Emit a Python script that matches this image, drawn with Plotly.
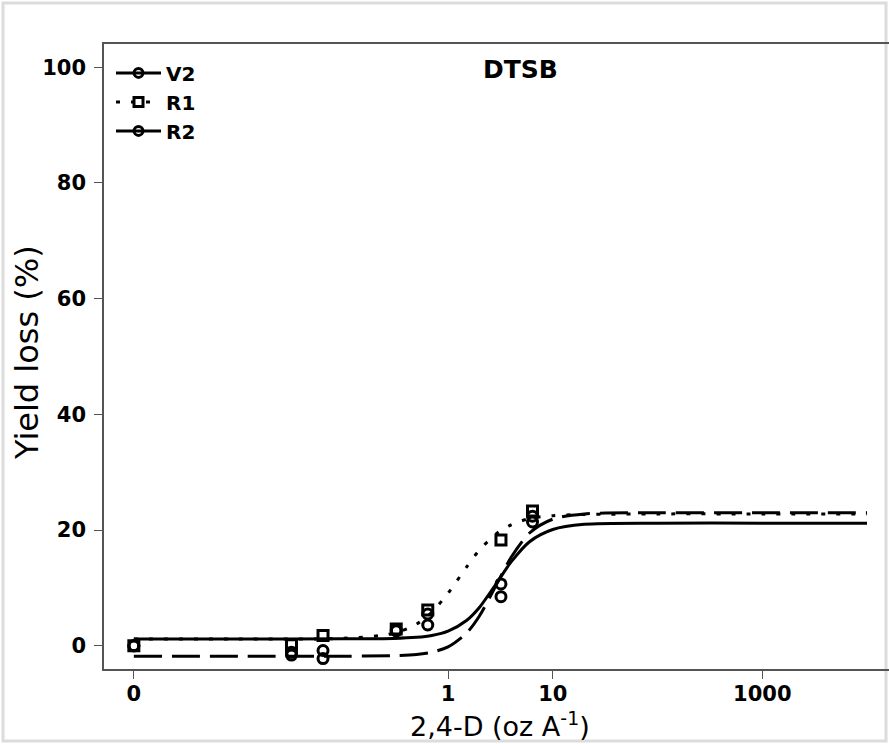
import plotly.graph_objects as go

# ---- data ----
dose_labels = ["0", "1", "10", "1000"]
dose_ticks = [0.001, 1, 10, 1000]
dose_obs = [0.001, 0.032, 0.064, 0.32, 0.64, 3.2, 6.4]
v2_obs = [0.0, -1.1, -0.8, 2.6, 5.5, 10.7, 21.4]
r1_obs = [0.0, 0.2, 1.8, 2.9, 6.2, 18.3, 23.3]
r2_obs = [0.0, -1.6, -2.2, 2.7, 3.6, 8.5, 22.4]

curve_x = [0.001, 0.01, 0.1, 0.3, 0.5, 0.7, 1, 1.5, 2, 3, 4, 6, 10, 20, 100, 1000, 10000]
v2_fit = [1.2, 1.2, 1.21, 1.28, 1.47, 1.79, 2.54, 4.38, 6.68, 11.2, 14.5, 18.0, 20.1, 21.0, 21.2, 21.2, 21.2]
r1_fit = [1.2, 1.2, 1.3, 2.15, 3.76, 5.82, 9.1, 13.6, 16.6, 19.6, 20.9, 22.0, 22.5, 22.7, 22.8, 22.8, 22.8]
r2_fit = [-1.8, -1.8, -1.79, -1.71, -1.5, -1.11, -0.18, 2.2, 5.2, 11.1, 15.3, 19.5, 21.9, 22.8, 23.0, 23.0, 23.0]

FONT = "DejaVu Sans"
W, H = 889, 744
ML, MR, MT, MB = 104, 0, 44, 75
PW, PH = W - ML - MR, H - MT - MB

def px(x):
    return (x - ML) / PW

def py(y):
    return (H - MB - y) / PH

fig = go.Figure()

series = [
    ("V2", v2_obs, v2_fit, "solid", "circle-open"),
    ("R1", r1_obs, r1_fit, "4px,11px", "square-open"),
    ("R2", r2_obs, r2_fit, "28px,10px", "circle-open"),
]

for name, obs, fit, dash, sym in series:
    fig.add_trace(go.Scatter(
        x=curve_x, y=fit, mode="lines", line=dict(color="black", width=3, dash=dash, shape="spline", smoothing=0.8),
        showlegend=False, hoverinfo="skip"))

for name, obs, fit, dash, sym in series:
    fig.add_trace(go.Scatter(
        x=dose_obs, y=obs, mode="markers", showlegend=False,
        marker=dict(symbol=sym, size=10, color="black", line=dict(color="black", width=3))))

# legend entries
for name, obs, fit, dash, sym in series:
    fig.add_trace(go.Scatter(
        x=[None], y=[None], mode="lines+markers", name=name,
        line=dict(color="black", width=3, dash=dash if dash != "28px,10px" else "solid"),
        marker=dict(symbol=sym, size=9, color="black", line=dict(color="black", width=3))))

axis_line = "#555555"
fig.update_xaxes(
    type="log", range=[-3.285, 4.21],
    tickvals=dose_ticks, ticktext=dose_labels,
    ticks="outside", ticklen=8, tickwidth=1, tickcolor=axis_line,
    showline=True, linecolor=axis_line, linewidth=1.5, mirror=True,
    showgrid=False, zeroline=False, ticklabelstandoff=-3,
    tickfont=dict(family=FONT, size=21, color="black", weight="bold"),
)
fig.update_yaxes(
    range=[-4, 104], tickvals=[0, 20, 40, 60, 80, 100],
    ticks="outside", ticklen=8, tickwidth=1, tickcolor=axis_line,
    showline=True, linecolor=axis_line, linewidth=1.5,
    showgrid=False, zeroline=False, ticklabelstandoff=4,
    tickfont=dict(family=FONT, size=21, color="black", weight="bold"),
)

fig.add_annotation(text="<b>DTSB</b>", x=px(520), y=py(70), xref="paper", yref="paper",
                   xanchor="center", yanchor="middle",
                   showarrow=False, font=dict(family=FONT, size=25, color="black"))
fig.add_annotation(text="2,4-D (oz A<sup>-1</sup>)", x=px(500), y=py(724), xref="paper", yref="paper",
                   xanchor="center", yanchor="middle",
                   showarrow=False, font=dict(family=FONT, size=27, color="black"))
fig.add_annotation(text="Yield loss (%)", x=px(27), y=py(353), xref="paper", yref="paper",
                   xanchor="center", yanchor="middle",
                   textangle=-90, showarrow=False, font=dict(family=FONT, size=32, color="black"))

fig.add_shape(type="rect", xref="paper", yref="paper",
              x0=px(3), x1=px(886), y0=py(741), y1=py(3),
              line=dict(color="#dcdcdc", width=3), fillcolor="rgba(0,0,0,0)", layer="below")

fig.update_layout(
    width=W, height=H,
    margin=dict(l=ML, r=MR, t=MT, b=MB),
    plot_bgcolor="white", paper_bgcolor="white",
    legend=dict(x=px(111), y=0.985, xanchor="left", yanchor="top",
                bgcolor="rgba(0,0,0,0)", font=dict(family=FONT, size=20, color="black", weight="bold"),
                tracegroupgap=0, itemwidth=45),
)

fig.write_html("out.html")
